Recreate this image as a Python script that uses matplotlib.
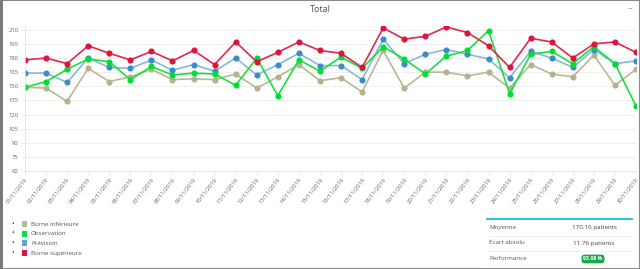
import matplotlib
matplotlib.use('Agg')
from matplotlib import pyplot as plt
from matplotlib.patches import Rectangle
from matplotlib.lines import Line2D

dates = ['%02d/11/2019' % d for d in range(1, 31)]
borne_inf = [149, 148, 134, 169, 155, 160, 168, 157, 158, 157, 163, 148, 160, 173, 156,
             159, 144, 188, 148, 165, 165, 161, 165, 148, 173, 163, 160, 183, 151, 168]
observation = [149, 155, 168, 179, 176, 157, 171, 162, 164, 163, 151, 180, 140, 178, 166,
               181, 169, 192, 179, 163, 182, 188, 209, 142, 184, 187, 174, 192, 174, 129]
prevision = [164, 164, 154, 180, 170, 169, 178, 167, 173, 166, 180, 162, 173, 185, 172,
             172, 157, 200, 174, 184, 189, 184, 179, 159, 187, 180, 170, 189, 174, 177]
borne_sup = [178, 180, 174, 193, 185, 178, 187, 177, 188, 173, 197, 176, 186, 197, 188,
             185, 170, 212, 200, 203, 213, 207, 193, 170, 201, 197, 180, 195, 197, 186]
y_ticks = list(range(60, 211, 15))

legend_labels = ['Borne inférieure', 'Observation', 'Prévision', 'Borne supérieure']
stat_labels = ['Moyenne', 'Écart absolu', 'Performance']
stat_values = ['170.16 patients', '11.76 patients', '93.08 %']

plt.rcParams['font.family'] = ['Open Sans', 'DejaVu Sans']

fig = plt.figure(figsize=[6.4, 2.69], dpi=100)
W, H = 640, 269


def fx(px):
    return px / W


def fy(py):
    return 1 - py / H


# panel frame
fig.patches.append(Rectangle((0, 0), 1, 1, transform=fig.transFigure, fill=False,
                             edgecolor='#8a8a8a', linewidth=1.5))
fig.patches.append(Rectangle((0, 0), fx(3), 1, transform=fig.transFigure,
                             facecolor='#7a7a7a', edgecolor='none'))

fig.text(0.5, fy(10), 'Total', ha='center', va='center', fontsize=6.5, color='#555555')
fig.text(fx(630), fy(9), '−', ha='center', va='center', fontsize=6, color='#999999')

ax = fig.add_axes([fx(25), fy(171), fx(611), fy(26) - fy(171)])
x = list(range(len(dates)))

series = [
    (borne_inf, '#b8b896', '#b3b38e'),
    (prevision, '#86b8da', '#3a8cc6'),
    (observation, '#19e040', '#00dd33'),
    (borne_sup, '#e0284f', '#dc143c'),
]
for vals, lc, mc in series:
    ax.plot(x, vals, color=lc, linewidth=1.2, marker='o', markersize=3.4,
            markerfacecolor=mc, markeredgecolor=mc)

ax.set_xlim(0, len(dates) - 1)
ax.set_ylim(60, 214)
ax.set_yticks(y_ticks)
ax.set_xticks(x)
ax.set_xticklabels(dates, rotation=52, ha='right', rotation_mode='anchor')
ax.tick_params(axis='both', labelsize=4.2, colors='#666666', length=3, width=0.5,
               pad=1.5)
ax.tick_params(axis='both', color='#e6e6e6')
ax.grid(axis='y', color='#ececec', linewidth=0.6)
ax.set_axisbelow(True)
for s in ['top', 'right']:
    ax.spines[s].set_visible(False)
ax.spines['left'].set_color('#e0e0e0')
ax.spines['bottom'].set_color('#e0e0e0')
ax.spines['left'].set_linewidth(0.6)
ax.spines['bottom'].set_linewidth(0.6)

# legend list
swatches = ['#b3bb8f', '#00e040', '#5aa7d8', '#e0144c']
for i, (lab, col) in enumerate(zip(legend_labels, swatches)):
    yy = fy(224 + i * 9.7)
    fig.text(fx(13), yy, '•', ha='center', va='center', fontsize=5, color='#333333')
    fig.patches.append(Rectangle((fx(22), yy - 3 / H), 5 / W, 6 / H,
                                 transform=fig.transFigure, facecolor=col,
                                 edgecolor='none'))
    fig.text(fx(31), yy, lab, ha='left', va='center', fontsize=4.5, color='#555555')

# stats table
fig.add_artist(Line2D([fx(487), fx(632)], [fy(219), fy(219)], color='#22c5d8',
                      linewidth=1.4))
for i, (lab, val) in enumerate(zip(stat_labels, stat_values)):
    yy = fy(228 + i * 15)
    fig.text(fx(489), yy, lab, ha='left', va='center', fontsize=4.5, color='#555555')
    if i < 2:
        fig.text(fx(594), yy, val, ha='center', va='center', fontsize=4.5,
                 color='#444444')
        fig.add_artist(Line2D([fx(487), fx(632)], [yy - 7.5 / H, yy - 7.5 / H],
                              color='#eeeeee', linewidth=0.5))
    else:
        fig.text(fx(593), yy - 1 / H, val, ha='center', va='center', fontsize=3.8,
                 color='white', fontweight='bold',
                 bbox=dict(boxstyle='round,pad=0.35,rounding_size=0.6',
                           facecolor='#16a84a', edgecolor='none'))
fig.add_artist(Line2D([fx(487), fx(632)], [fy(265), fy(265)], color='#eeeeee',
                      linewidth=0.5))

fig.savefig('out.png', dpi=100)
